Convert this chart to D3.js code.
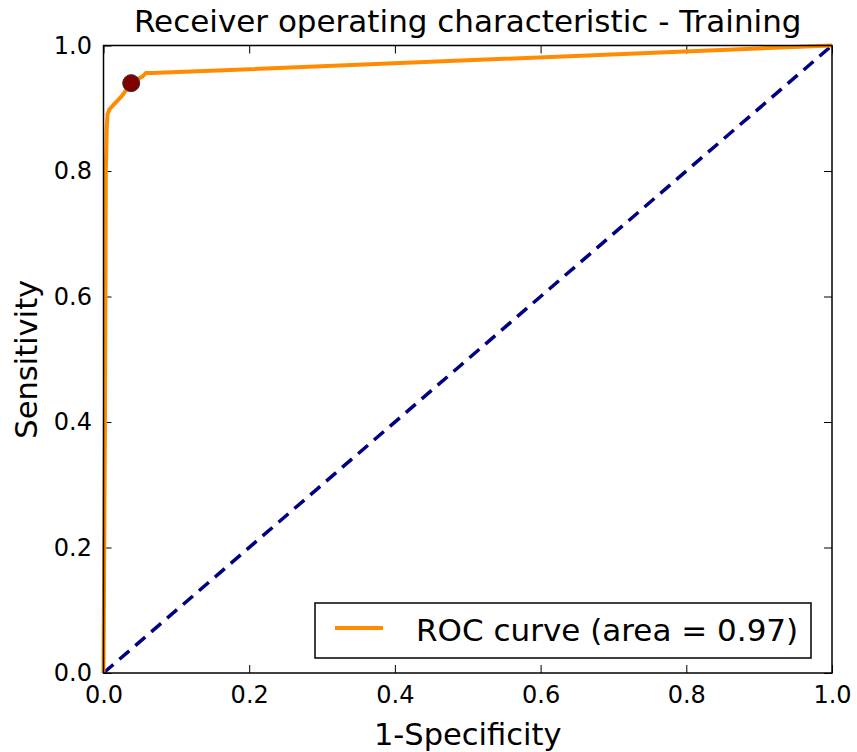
<!DOCTYPE html>
<html>
<head>
<meta charset="utf-8">
<script src="https://cdn.jsdelivr.net/npm/d3@7"></script>
<style>
  body { margin: 0; background: #fff; }
  text { font-family: "DejaVu Sans", sans-serif; fill: #000; }
</style>
</head>
<body>
<div class="chart"></div>
<script>
// ROC curve points
const fprValues = [0, 0.002, 0.0032, 0.004, 0.0045, 0.0055, 0.008, 0.011, 0.015, 0.02, 0.024, 0.028, 0.033, 0.038, 0.046, 0.054, 0.058, 0.061, 0.067, 1];
const tprValues = [0, 0.40, 0.80, 0.84, 0.87, 0.89, 0.898, 0.902, 0.907, 0.913, 0.918, 0.924, 0.932, 0.94, 0.946, 0.951, 0.956, 0.956, 0.956, 1];
const diagonal = [0, 1];
const cutoffPoint = [0.038, 0.94];
const tickValues = [0, 0.2, 0.4, 0.6, 0.8, 1.0];
const legendLabel = 'ROC curve (area = 0.97)';

const width = 857, height = 752;
const margin = {top: 45.5, right: 25, bottom: 79, left: 103.5};
const w = width - margin.left - margin.right;
const h = height - margin.top - margin.bottom;

const svg = d3.select('.chart').append('svg')
  .attr('width', width).attr('height', height);
const g = svg.append('g').attr('transform', `translate(${margin.left},${margin.top})`);

const x = d3.scaleLinear([0, 1], [0, w]);
const y = d3.scaleLinear([0, 1], [h, 0]);

const fmt = d3.format('.1f');

// axes, ticks pointing inward on all sides
g.append('g').attr('transform', `translate(0,${h})`)
  .call(d3.axisBottom(x).tickValues(tickValues).tickFormat(fmt).tickSizeInner(-8).tickSizeOuter(0).tickPadding(13));
g.append('g')
  .call(d3.axisTop(x).tickValues(tickValues).tickFormat('').tickSizeInner(-8).tickSizeOuter(0));
g.append('g')
  .call(d3.axisLeft(y).tickValues(tickValues).tickFormat(fmt).tickSizeInner(-8).tickSizeOuter(0).tickPadding(11.5));
g.append('g').attr('transform', `translate(${w},0)`)
  .call(d3.axisRight(y).tickValues(tickValues).tickFormat('').tickSizeInner(-8).tickSizeOuter(0));

g.selectAll('.domain').remove();
g.selectAll('.tick line').attr('stroke', '#000').attr('stroke-width', 1);
g.selectAll('.tick text').style('font-size', '24px').attr('fill', '#000');

// diagonal
g.append('line')
  .attr('x1', x(diagonal[0])).attr('y1', y(diagonal[0]))
  .attr('x2', x(diagonal[1])).attr('y2', y(diagonal[1]))
  .attr('stroke', '#000080').attr('stroke-width', 3.5)
  .attr('stroke-dasharray', '13,8');

// ROC curve
const rocData = fprValues.map((d, i) => ({fpr: d, tpr: tprValues[i]}));
const line = d3.line().x(d => x(d.fpr)).y(d => y(d.tpr));
g.append('path').datum(rocData)
  .attr('d', line)
  .attr('fill', 'none')
  .attr('stroke', '#ff8c00')
  .attr('stroke-width', 4)
  .attr('stroke-linejoin', 'round');

// optimal cutoff
g.append('circle')
  .attr('cx', x(cutoffPoint[0])).attr('cy', y(cutoffPoint[1]))
  .attr('r', 8.5)
  .attr('fill', '#800000').attr('stroke', '#333').attr('stroke-width', 1);

// frame
g.append('rect').attr('width', w).attr('height', h)
  .attr('fill', 'none').attr('stroke', '#000').attr('stroke-width', 1.5);

// legend
const legend = g.append('g').attr('transform', `translate(${315 - margin.left},${603 - margin.top})`);
legend.append('rect').attr('width', 496).attr('height', 55)
  .attr('fill', '#fff').attr('stroke', '#000').attr('stroke-width', 1.5);
legend.append('line').attr('x1', 20).attr('x2', 68).attr('y1', 25).attr('y2', 25)
  .attr('stroke', '#ff8c00').attr('stroke-width', 4);
legend.append('text').attr('x', 101).attr('y', 38)
  .style('font-size', '31px').text(legendLabel);

// title and axis labels
svg.append('text').attr('x', margin.left + w / 2).attr('y', 32)
  .attr('text-anchor', 'middle').style('font-size', '31px')
  .text('Receiver operating characteristic - Training');
svg.append('text').attr('x', margin.left + w / 2).attr('y', 745)
  .attr('text-anchor', 'middle').style('font-size', '30.5px')
  .text('1-Specificity');
svg.append('text')
  .attr('transform', `translate(37,${margin.top + h / 2}) rotate(-90)`)
  .attr('text-anchor', 'middle').style('font-size', '30.5px')
  .text('Sensitivity');
</script>
</body>
</html>
